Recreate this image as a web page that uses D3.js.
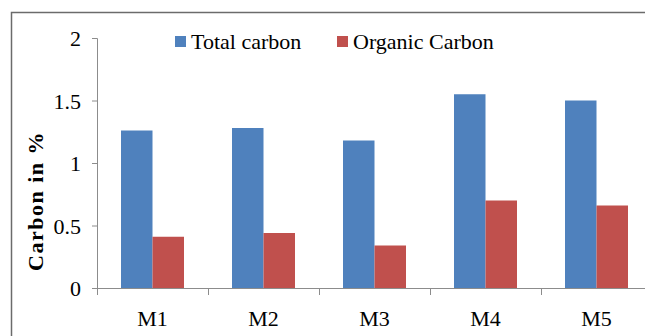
<!DOCTYPE html>
<html>
<head>
<meta charset="utf-8">
<script src="https://cdn.jsdelivr.net/npm/d3@7"></script>
<style>
  html, body { margin: 0; padding: 0; background: #fff; }
  svg { display: block; }
</style>
</head>
<body>
<svg id="chart" width="645" height="336"></svg>
<script>
// Carbon content per sample
const categories = ["M1", "M2", "M3", "M4", "M5"];
const seriesNames = ["Total carbon", "Organic Carbon"];
const totalCarbon = [1.26, 1.28, 1.18, 1.55, 1.50];
const organicCarbon = [0.41, 0.44, 0.34, 0.70, 0.66];
const yTicks = [0, 0.5, 1, 1.5, 2];
const yTickLabels = ["0", "0.5", "1", "1.5", "2"];
const colors = ["#4F81BD", "#C0504D"];

const FONT = "Liberation Serif";
const rows = categories.map((c, i) => ({ cat: c, values: [totalCarbon[i], organicCarbon[i]] }));

const svg = d3.select("#chart");
const W = 645, H = 336;

// Outer chart frame (left and top edges visible)
svg.append("path")
  .attr("d", `M11.5,${H} V12.5 H${W}`)
  .attr("fill", "none")
  .attr("stroke", "#6b6b6b")
  .attr("stroke-width", 1.5);

const plotLeft = 97, plotTop = 38, plotBottom = 288, bandW = 111;

const x = d3.scaleBand()
  .domain(categories)
  .range([plotLeft, plotLeft + bandW * categories.length])
  .paddingInner(0).paddingOuter(0);

const groupW = 63;
const x1 = d3.scaleBand()
  .domain(d3.range(seriesNames.length))
  .range([0, groupW]);

const y = d3.scaleLinear().domain([0, 2]).range([plotBottom, plotTop]);

// Bars
svg.append("g")
  .selectAll("g.cat")
  .data(rows)
  .join("g")
  .attr("class", "cat")
  .attr("transform", d => `translate(${x(d.cat) + (x.bandwidth() - groupW) / 2},0)`)
  .selectAll("rect")
  .data(d => d.values.map((v, k) => ({ v, k })))
  .join("rect")
  .attr("x", d => x1(d.k))
  .attr("width", x1.bandwidth())
  .attr("y", d => y(d.v))
  .attr("height", d => y(0) - y(d.v))
  .attr("fill", d => colors[d.k]);

// Y axis
const yAxis = d3.axisLeft(y)
  .tickValues(yTicks)
  .tickFormat((d, i) => yTickLabels[i])
  .tickSize(5)
  .tickPadding(11);
const ya = svg.append("g")
  .attr("transform", `translate(${plotLeft},0)`)
  .call(yAxis)
  .attr("font-family", FONT)
  .attr("font-size", 22);
ya.select(".domain").attr("stroke", "#8c8c8c").attr("d", `M-5,${plotTop}.5H0.5V${plotBottom}.5H-5`);
ya.selectAll(".tick line").attr("stroke", "#8c8c8c");
ya.selectAll(".tick text")
  .attr("dy", "0.35em");

// X axis
const xAxis = d3.axisBottom(x).tickSize(0).tickPadding(0);
const xa = svg.append("g")
  .attr("transform", `translate(0,${plotBottom})`)
  .call(xAxis)
  .attr("font-family", FONT)
  .attr("font-size", 22);
xa.select(".domain").remove();
xa.append("line")
  .attr("x1", plotLeft).attr("x2", W)
  .attr("y1", 0.5).attr("y2", 0.5)
  .attr("stroke", "#8c8c8c");
xa.selectAll(".xsep")
  .data(categories)
  .join("line")
  .attr("class", "xsep")
  .attr("x1", d => x(d) + 0.5).attr("x2", d => x(d) + 0.5)
  .attr("y1", 0).attr("y2", 7)
  .attr("stroke", "#8c8c8c");
xa.selectAll(".tick text")
  .attr("y", 38)
  .attr("dy", 0);

// Y axis title
svg.append("text")
  .attr("transform", "translate(43,201) rotate(-90)")
  .attr("text-anchor", "middle")
  .attr("font-family", FONT)
  .attr("font-size", 22)
  .attr("font-weight", "bold")
  .style("letter-spacing", "1.5px")
  .text("Carbon in %");

// Legend
const legendX = [175, 337];
const lg = svg.append("g").selectAll("g")
  .data(seriesNames)
  .join("g")
  .attr("transform", (d, i) => `translate(${legendX[i]},36)`);
lg.append("rect")
  .attr("width", 11).attr("height", 11)
  .attr("fill", (d, i) => colors[i]);
lg.append("text")
  .attr("x", 16).attr("y", 13)
  .attr("font-family", FONT)
  .attr("font-size", 22)
  .text(d => d);
</script>
</body>
</html>
